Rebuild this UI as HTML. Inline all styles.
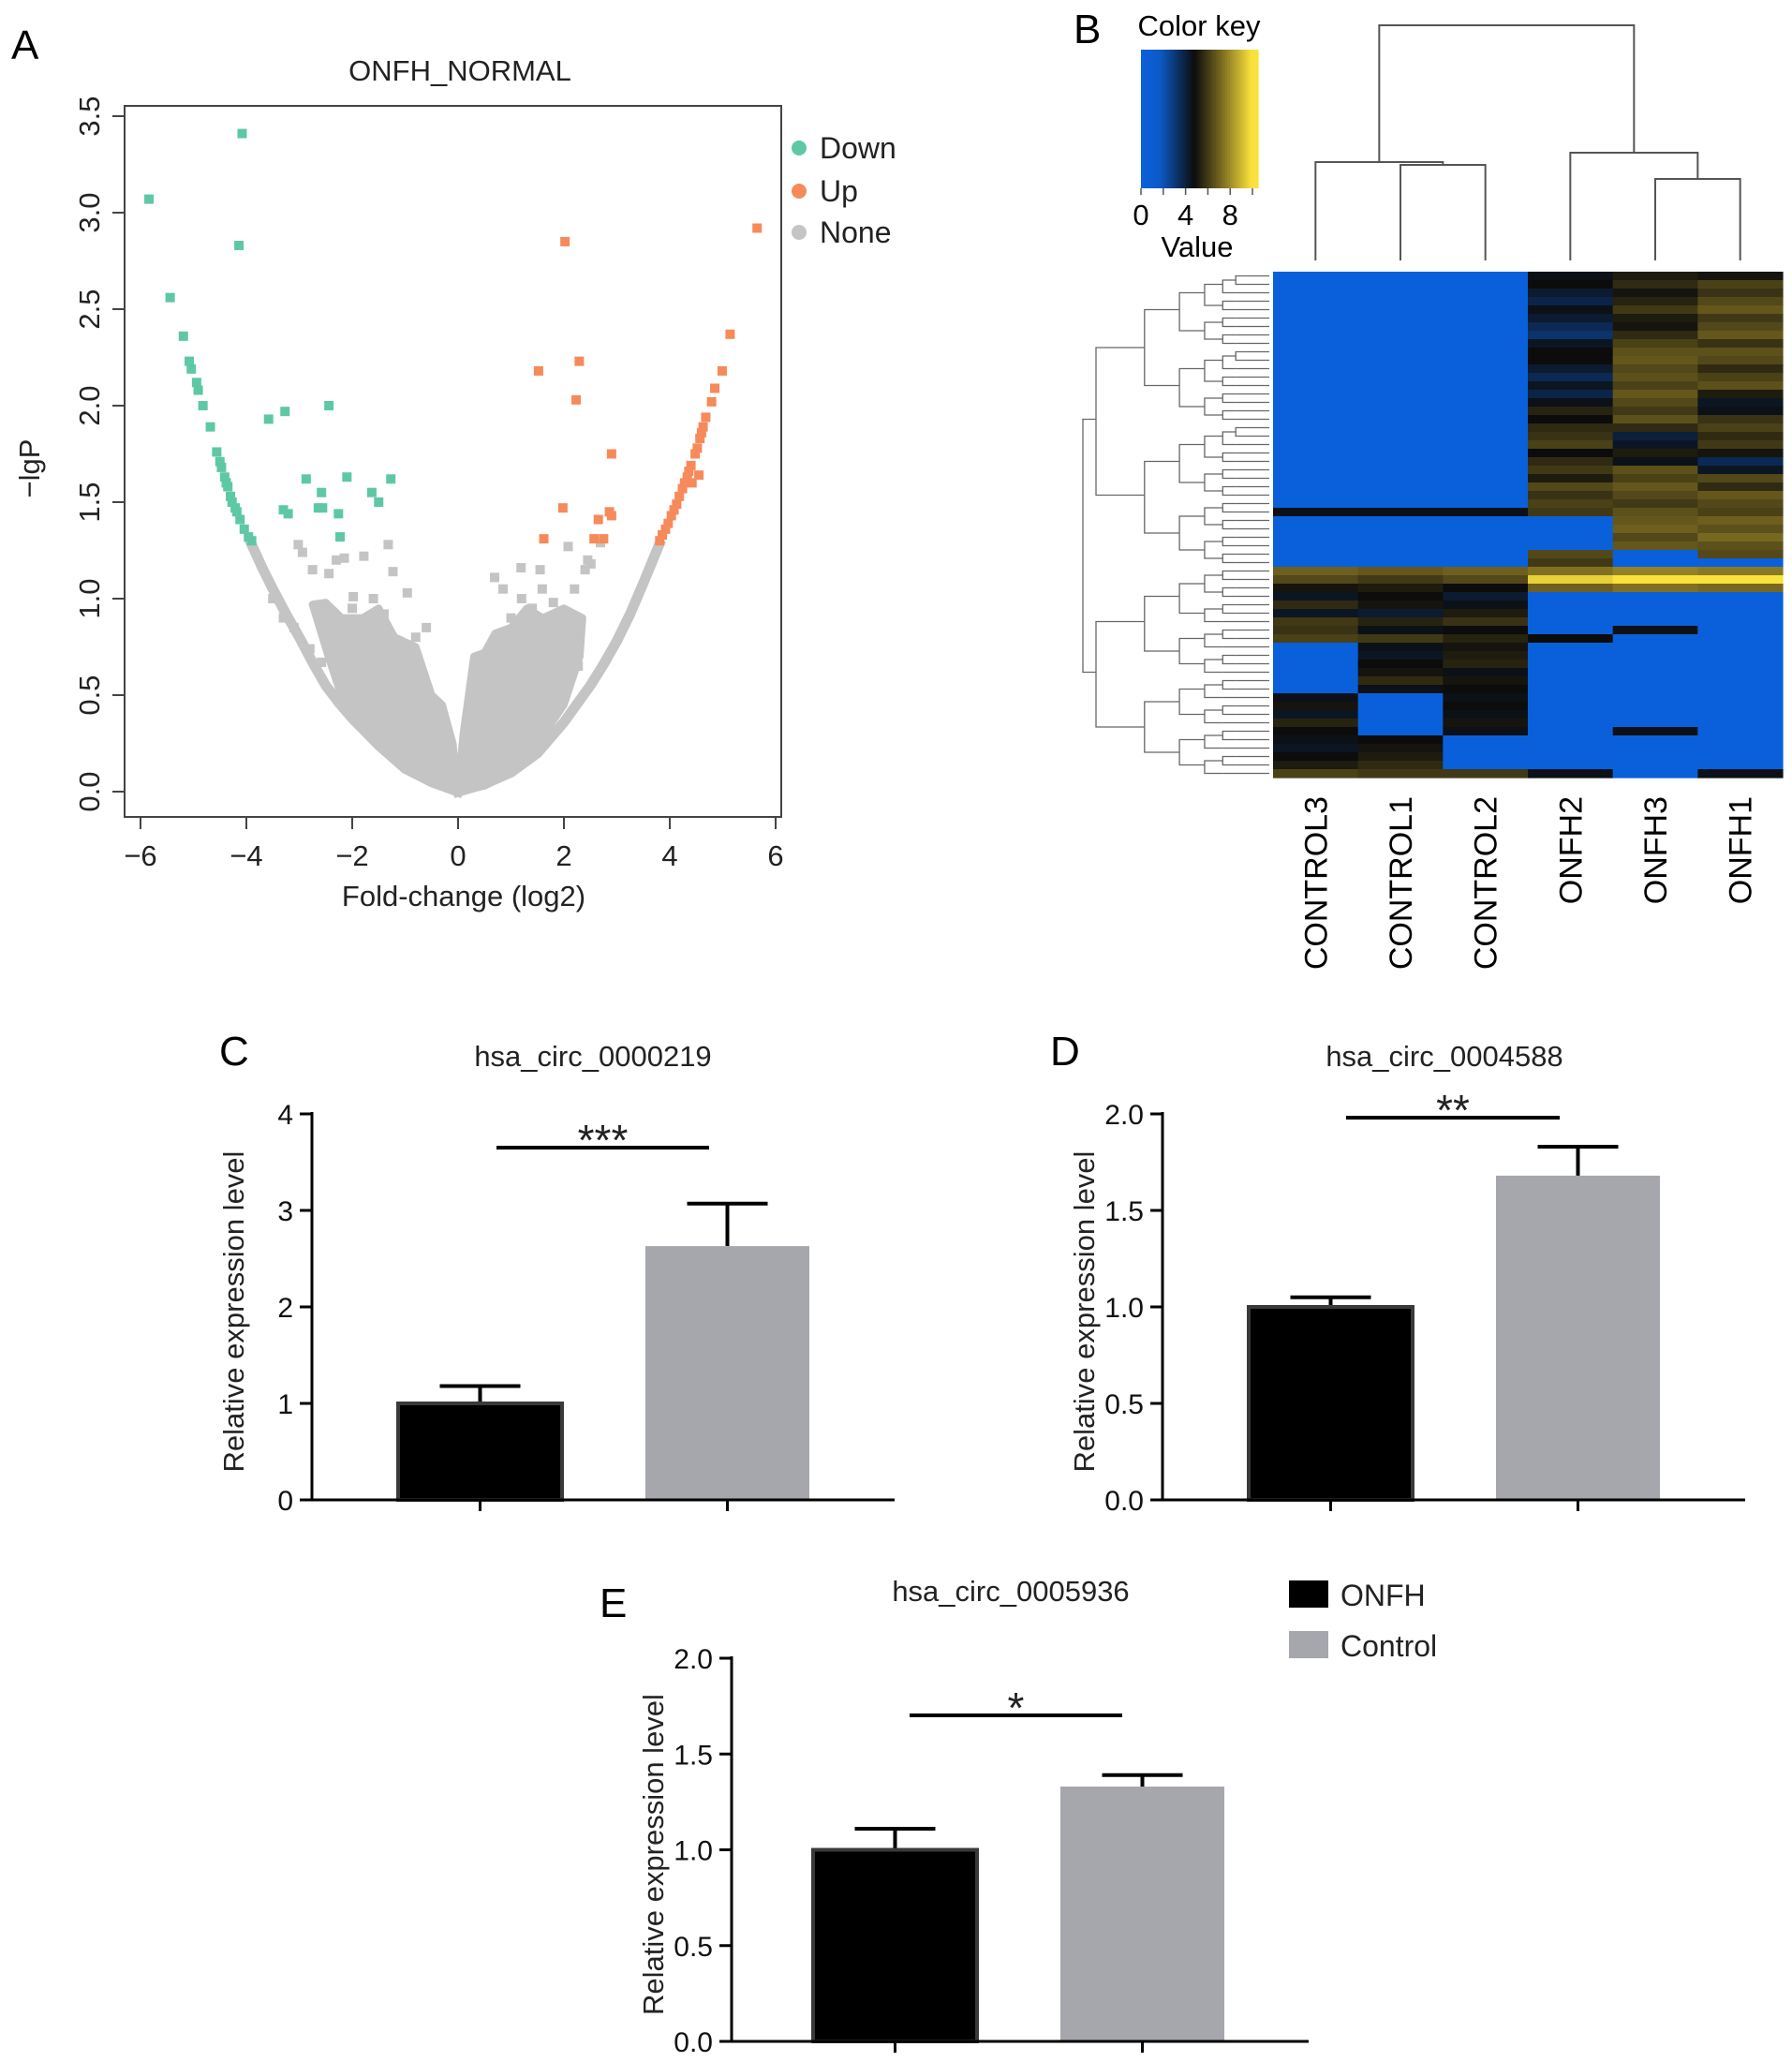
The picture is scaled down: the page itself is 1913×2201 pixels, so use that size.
<!DOCTYPE html>
<html><head><meta charset="utf-8"><style>
html,body{margin:0;padding:0;background:#fff}
svg{display:block;font-family:"Liberation Sans",Arial,sans-serif}
</style></head><body>
<svg id="fig" xmlns="http://www.w3.org/2000/svg" width="1913" height="2201" viewBox="0 0 1913 2201">
<rect width="1913" height="2201" fill="#fff"/>
<g id="volcano"></g>
<g id="heat"></g>
<g id="bars"></g>
</svg>
<script>
const NS='http://www.w3.org/2000/svg';
function mk(tag,attrs,parent,txt){const e=document.createElementNS(NS,tag);for(const k in attrs)e.setAttribute(k,attrs[k]);if(txt!==undefined)e.textContent=txt;parent.appendChild(e);return e;}

// ---------- Volcano data ----------
const downX=[-5.84,-4.08,-4.14,-5.44,-5.19,-5.08,-5.04,-4.94,-4.91,-4.82,-4.68,-4.56,-4.5,-4.41,-4.35,-4.3,-4.21,-4.12,-4.04,-3.96,-3.9,-3.58,-3.27,-2.44,-2.87,-2.1,-1.27,-2.58,-1.63,-1.5,-3.3,-3.21,-2.64,-2.56,-2.26,-2.23,-4.38,-4.27,-4.18,-4.47];
const downY=[3.07,3.41,2.83,2.56,2.36,2.23,2.19,2.12,2.08,2.0,1.89,1.76,1.71,1.63,1.58,1.53,1.47,1.41,1.36,1.32,1.30,1.93,1.97,2.0,1.62,1.63,1.62,1.55,1.55,1.5,1.46,1.44,1.47,1.47,1.44,1.32,1.6,1.5,1.45,1.68];
const upX=[5.65,2.02,5.14,2.29,1.52,4.99,2.23,4.85,4.79,4.68,4.63,4.57,4.48,4.4,4.33,4.24,4.13,4.03,3.92,3.81,4.55,4.42,2.9,1.98,2.86,2.9,2.65,2.75,2.57,1.62,4.6,4.52,4.36,4.28,4.18,4.08,3.97,3.86];
const upY=[2.92,2.85,2.37,2.23,2.18,2.18,2.03,2.09,2.02,1.94,1.89,1.83,1.75,1.69,1.63,1.57,1.49,1.43,1.36,1.30,1.64,1.6,1.75,1.47,1.45,1.43,1.41,1.31,1.31,1.31,1.86,1.78,1.66,1.6,1.53,1.46,1.39,1.33];
const grayX=[-3.02,-2.94,-1.32,-1.78,-2.15,-2.75,-2.44,-1.23,-0.96,-0.6,-1.98,0.69,0.85,1.19,1.55,2.08,2.69,2.4,2.51,1.2,1.59,2.27,-2.18,-2.58,-2.8,-2.3,-1.6,-1.4,-0.8,-2.0,-2.6,1.4,1.8,2.2,2.45,1.0,0.75,-3.3,-3.5,-3.1];
const grayY=[1.28,1.24,1.28,1.22,1.21,1.15,1.13,1.14,1.03,0.85,1.01,1.11,1.05,1.16,1.15,1.27,1.29,1.15,1.18,1.0,1.05,0.65,0.53,0.67,0.74,1.2,1.0,0.92,0.8,0.95,0.95,0.95,0.98,1.05,1.2,0.9,0.8,0.9,1.0,0.85];
const leftCurveX=[-3.9,-3.7,-3.5,-3.25,-3,-2.75,-2.5,-2.25,-2,-1.5,-1,-0.5,0];
const leftCurveY=[1.28,1.16,1.05,0.92,0.8,0.67,0.55,0.46,0.38,0.24,0.12,0.05,0];
const rightCurveX=[0,0.5,1,1.5,2,2.5,2.75,3,3.25,3.5,3.65,3.8];
const rightCurveY=[0,0.04,0.1,0.2,0.36,0.55,0.66,0.78,0.92,1.08,1.18,1.28];
const leftLobeX=[0,-0.5,-1,-1.5,-2,-2.15,-2.45,-2.75,-2.5,-2.2,-1.8,-1.5,-1.2,-0.8,-0.5,-0.3,-0.1];
const leftLobeY=[0,0.05,0.12,0.24,0.38,0.45,0.7,0.97,0.98,0.9,0.9,0.95,0.8,0.75,0.5,0.45,0.25];
const rightLobeX=[0,0.1,0.3,0.5,0.7,1.0,1.3,1.6,2.0,2.35,2.3,2.0,1.5,1.0,0.5];
const rightLobeY=[0,0.3,0.7,0.72,0.82,0.85,0.95,0.9,0.95,0.9,0.7,0.45,0.25,0.1,0.03];
const xTicks=[-6,-4,-2,0,2,4,6];
const xTickLabels=['\u22126','\u22124','\u22122','0','2','4','6'];
const yTicks=[0,0.5,1,1.5,2,2.5,3,3.5];
const yTickLabels=['0.0','0.5','1.0','1.5','2.0','2.5','3.0','3.5'];

const vx=v=>489+v*56.5, vy=v=>845-v*206;
(function(){
 const g=document.getElementById('volcano');
 const t=mk('text',{x:12,y:63,'font-size':44},g,'A');
 
 const ti=mk('text',{x:491,y:86,'font-size':31,'text-anchor':'middle',fill:'#222'},g,'ONFH_NORMAL');
 
 [[leftLobeX,leftLobeY],[rightLobeX,rightLobeY]].forEach(([X,Y])=>{
  let d='';X.forEach((x,i)=>{d+=(i?'L':'M')+vx(x)+','+vy(Y[i]);});
  const cl=mk('path',{d:d+'Z',fill:'#c4c4c4',stroke:'#c4c4c4','stroke-width':8,'stroke-linejoin':'round'},g);
  
 });
 [[leftCurveX,leftCurveY],[rightCurveX,rightCurveY]].forEach(([X,Y])=>{
  let p='';X.forEach((x,i)=>{p+=(i?'L':'M')+vx(x)+','+vy(Y[i]);});
  const l=mk('path',{d:p,fill:'none',stroke:'#c4c4c4','stroke-width':11,'stroke-linecap':'square'},g);
  
 });
 function pts(X,Y,col,name){X.forEach((x,i)=>{const r=mk('rect',{x:vx(x)-5,y:vy(Y[i])-5,width:10,height:10,fill:col},g);
  });}
 pts(grayX,grayY,'#c4c4c4','none-point');
 pts(downX,downY,'#5ec8a4','down-point');
 pts(upX,upY,'#f68a5a','up-point');
 const fr=mk('rect',{x:133,y:113,width:701,height:759,fill:'none',stroke:'#444','stroke-width':2},g);
 
 xTicks.forEach((v,i)=>{mk('line',{x1:vx(v),x2:vx(v),y1:872,y2:885,stroke:'#444','stroke-width':2},g);
  const l=mk('text',{x:vx(v),y:924,'font-size':31,'text-anchor':'middle',fill:'#222'},g,xTickLabels[i]);
  });
 yTicks.forEach((v,i)=>{mk('line',{x1:120,x2:133,y1:vy(v),y2:vy(v),stroke:'#444','stroke-width':2},g);
  const l=mk('text',{x:106,y:vy(v),'font-size':31,'text-anchor':'middle',fill:'#222',transform:`rotate(-90 106 ${vy(v)})`},g,yTickLabels[i]);
  });
 const xl=mk('text',{x:495,y:967,'font-size':31,'text-anchor':'middle',fill:'#222'},g,'Fold-change (log2)');
 
 const yl=mk('text',{x:42,y:500,'font-size':31,'text-anchor':'middle',fill:'#222',transform:'rotate(-90 42 500)'},g,'\u2212lgP');
 
 [['Down','#5ec8a4',158],['Up','#f68a5a',204],['None','#c4c4c4',248]].forEach(([n,c,y])=>{
  const le=mk('g',{},g);
  mk('circle',{cx:853,cy:y,r:8,fill:c},le);mk('text',{x:875,y:y+11,'font-size':32,fill:'#222'},le,n);});
})();

// ---------- Heatmap data ----------
const sampleLabels=['CONTROL3','CONTROL1','CONTROL2','ONFH2','ONFH3','ONFH1'];
const heatValues=[
[0,0,0,4.6,5.2,5.0],[0,0,0,4.8,5.6,6.2],[0,0,0,4.2,5.0,5.8],[0,0,0,3.8,5.4,6.4],[0,0,0,4.6,6.0,6.8],
[0,0,0,4.2,5.2,6.0],[0,0,0,3.6,5.0,6.4],[0,0,0,3.2,5.6,6.8],[0,0,0,4.4,6.2,5.8],[0,0,0,4.8,6.6,6.6],
[0,0,0,4.8,6.8,6.4],[0,0,0,4.2,6.4,5.6],[0,0,0,3.6,6.6,6.2],[0,0,0,4.4,6.2,6.6],[0,0,0,3.8,6.8,5.2],
[0,0,0,4.6,6.4,4.4],[0,0,0,5.4,6.0,4.6],[0,0,0,4.8,6.6,5.8],[0,0,0,5.6,5.6,6.2],[0,0,0,5.8,4.0,5.6],
[0,0,0,6.2,4.4,6.0],[0,0,0,4.8,5.2,5.0],[0,0,0,5.6,4.6,3.6],[0,0,0,6.0,6.6,4.4],[0,0,0,5.2,6.2,6.4],
[0,0,0,6.4,6.8,5.6],[0,0,0,5.8,6.4,6.8],[0,0,0,6.2,6.0,6.4],[4.6,4.6,4.6,6.0,6.6,6.2],[0,0,0,0,6.8,7.0],
[0,0,0,0,7.0,6.6],[0,0,0,0,6.4,7.2],[0,0,0,0,6.8,6.6],[0,0,0,6.4,0,6.4],[0,0,0,6.0,0,0],
[7.0,6.8,7.0,7.4,7.8,7.6],[6.4,6.0,6.4,9.6,10,10],[5.0,5.2,4.8,7.0,7.4,7.2],[4.4,4.8,4.2,0,0,0],[5.6,5.0,4.6,0,0,0],
[4.4,4.2,5.2,0,0,0],[6.0,5.4,5.8,0,0,0],[5.8,4.6,4.8,0,4.6,0],[6.2,6.0,5.4,4.8,0,0],[0,4.6,5.0,0,0,0],
[0,4.4,5.2,0,0,0],[0,4.8,5.4,0,0,0],[0,5.0,4.6,0,0,0],[0,5.6,5.0,0,0,0],[0,4.6,4.8,0,0,0],
[4.6,0,4.6,0,0,0],[5.0,0,4.8,0,0,0],[4.4,0,4.6,0,0,0],[5.4,0,5.0,0,0,0],[4.8,0,4.6,0,4.6,0],
[4.6,4.8,0,0,0,0],[4.4,5.0,0,0,0,0],[4.8,5.2,0,0,0,0],[5.2,5.6,0,0,0,0],[6.2,6.0,6.0,4.6,0,4.6]];
const keyTicks=[0,4,8];
function heatColor(v){
 const stops=[[0,[10,96,218]],[1.6,[12,90,200]],[4.8,[12,12,12]],[7,[110,95,30]],[10,[250,225,60]]];
 for(let i=1;i<stops.length;i++){if(v<=stops[i][0]){const [a,ca]=stops[i-1],[b,cb]=stops[i];const t=(v-a)/(b-a);
  return 'rgb('+ca.map((c,k)=>Math.round(c+(cb[k]-c)*t)).join(',')+')';}}
 return 'rgb(250,225,60)';}
(function(){
 const g=document.getElementById('heat');
 const L=1359,T=290,W=544,H=540,nR=heatValues.length,cw=W/6,rh=H/nR;
 const b=mk('text',{x:1146,y:46,'font-size':44},g,'B');
 heatValues.forEach((row,r)=>row.forEach((v,c)=>{const e=mk('rect',{x:L+c*cw,y:T+r*rh,width:cw+0.6,height:rh+0.6,fill:heatColor(v)},g);
  }));
 const kx0=1218,kx1=1343,ky0=53,ky1=201;
 const kg=mk('g',{},g);
 for(let i=0;i<50;i++){const v=i/49*10.5;mk('rect',{x:kx0+i*(kx1-kx0)/50,y:ky0,width:(kx1-kx0)/50+0.6,height:ky1-ky0,fill:heatColor(v)},kg);}
 const kscale=v=>kx0+v/10.5*(kx1-kx0);
 [0,2,4,6,8,10].forEach(v=>mk('line',{x1:kscale(v),x2:kscale(v),y1:ky1,y2:ky1+7,stroke:'#555','stroke-width':1.5},kg));
 keyTicks.forEach(v=>mk('text',{x:kscale(v),y:240,'font-size':31,'text-anchor':'middle'},kg,String(v)));
 mk('text',{x:1278,y:274,'font-size':31,'text-anchor':'middle'},kg,'Value');
 mk('text',{x:1280,y:38,'font-size':31,'text-anchor':'middle'},kg,'Color key');
 const cx=i=>L+cw*(i+0.5);
 const dg=mk('g',{fill:'none',stroke:'#555','stroke-width':2},g);
 const leafY=278;
 const seg=(d)=>mk('path',{d},dg);
 seg(`M${cx(1)},${leafY}V176H${cx(2)}V${leafY}`);
 const m12=(cx(1)+cx(2))/2;
 seg(`M${cx(0)},${leafY}V173H${m12}V176`);
 seg(`M${cx(4)},${leafY}V191H${cx(5)}V${leafY}`);
 const m45=(cx(4)+cx(5))/2;
 seg(`M${cx(3)},${leafY}V163H${m45}V191`);
 const a=(cx(0)+m12)/2,bb=(cx(3)+m45)/2;
 seg(`M${a},173V27H${bb}V163`);
 const rg=mk('g',{fill:'none',stroke:'#666','stroke-width':1.3},g);
 const ry=r=>T+(r+0.5)*rh;
 function tree(r0,r1,x,depth){
  if(r1-r0<1||depth>6){for(let r=r0;r<=r1;r++)mk('path',{d:`M${x},${ry(r)}H${L-4}`},rg);return;}
  const mid=Math.floor((r0+r1)/2);const nx=x+(L-4-x)*0.28;
  const y0=(ry(r0)+ry(mid))/2,y1=(ry(mid+1)+ry(r1))/2;
  mk('path',{d:`M${nx},${y0}H${x}V${y1}H${nx}`},rg);
  tree(r0,mid,nx,depth+1);tree(mid+1,r1,nx,depth+1);}
 const rootX=1156;
 const yA=(ry(0)+ry(34))/2,yB=(ry(35)+ry(59))/2;
 mk('path',{d:`M1170,${yA}H${rootX}V${yB}H1170`},rg);
 tree(0,34,1170,0);tree(35,59,1170,0);
 sampleLabels.forEach((s,i)=>{const x=cx(i)+12,y=850;
  const l=mk('text',{x,y,'font-size':34,'text-anchor':'end',transform:`rotate(-90 ${x} ${y})`},g,s);
  });
})();

// ---------- Bar chart data ----------
const groups=['ONFH','Control'];
const cValues=[1.0,2.63];const cErr=[1.18,3.07];const cTicks=[0,1,2,3,4];const cTickLabels=['0','1','2','3','4'];
const dValues=[1.0,1.68];const dErr=[1.05,1.83];const dTicks=[0,0.5,1,1.5,2];const dTickLabels=['0.0','0.5','1.0','1.5','2.0'];
const eValues=[1.0,1.33];const eErr=[1.11,1.39];const eTicks=[0,0.5,1,1.5,2];const eTickLabels=['0.0','0.5','1.0','1.5','2.0'];

function barChart(o){
 const g=mk('g',{},document.getElementById('bars'));
 
 const y=v=>o.y0-(v/o.max)*(o.y0-o.yTop);
 const L=mk('text',{x:o.letterX,y:o.letterY,'font-size':44},g,o.letter);
 
 const t=mk('text',{x:o.titleX,y:o.titleY,'font-size':31,'text-anchor':'middle',fill:'#222'},g,o.title);
 
 const cols=['#000','#a6a6ad'];
 o.values.forEach((v,i)=>{
  const bx=o.barX[i],bw=175,bc=bx+bw/2;
  mk('line',{x1:bc,x2:bc,y1:y(v),y2:y(o.err[i]),stroke:'#000','stroke-width':4},g);
  mk('line',{x1:bc-43,x2:bc+43,y1:y(o.err[i]),y2:y(o.err[i]),stroke:'#000','stroke-width':4},g);
  const r=mk('rect',{x:bx,y:y(v),width:bw,height:o.y0-y(v),fill:cols[i],stroke:i?'none':'#3a3a3a','stroke-width':i?0:4},g);
  
  mk('line',{x1:bc,x2:bc,y1:o.y0,y2:o.y0+12,stroke:'#000','stroke-width':3},g);
 });
 mk('line',{x1:o.ax,x2:o.ax,y1:o.yTop-2,y2:o.y0+1.5,stroke:'#000','stroke-width':3},g);
 mk('line',{x1:o.ax,x2:o.axEnd,y1:o.y0,y2:o.y0,stroke:'#000','stroke-width':3},g);
 o.ticks.forEach((v,i)=>{mk('line',{x1:o.ax-13,x2:o.ax,y1:y(v),y2:y(v),stroke:'#000','stroke-width':3},g);
  const l=mk('text',{x:o.ax-20,y:y(v)+11,'font-size':30,'text-anchor':'end',fill:'#111'},g,o.tickLabels[i]);
  });
 const yx=o.ax-73,yc=(o.y0+o.yTop)/2+5;
 const yl=mk('text',{x:yx,y:yc,'font-size':31,'text-anchor':'middle',fill:'#222',transform:`rotate(-90 ${yx} ${yc})`},g,'Relative expression level');
 
 const sl=mk('line',{x1:o.sig[0],x2:o.sig[1],y1:o.sig[2],y2:o.sig[2],stroke:'#000','stroke-width':4},g);
 
 const st=mk('text',{x:(o.sig[0]+o.sig[1])/2,y:o.sig[2]+8,'font-size':46,'text-anchor':'middle',fill:'#222'},g,o.stars);
 
}
barChart({name:'chart-c',letter:'C',letterX:234,letterY:1137,title:'hsa_circ_0000219',titleX:633,titleY:1138,values:cValues,err:cErr,ticks:cTicks,tickLabels:cTickLabels,max:4,y0:1601,yTop:1189,ax:333,axEnd:955,barX:[425,689],sig:[530,757,1225],stars:'***'});
barChart({name:'chart-d',letter:'D',letterX:1121,letterY:1137,title:'hsa_circ_0004588',titleX:1542,titleY:1138,values:dValues,err:dErr,ticks:dTicks,tickLabels:dTickLabels,max:2,y0:1601,yTop:1189,ax:1241,axEnd:1863,barX:[1333,1597],sig:[1437,1665,1193],stars:'**'});
barChart({name:'chart-e',letter:'E',letterX:640,letterY:1726,title:'hsa_circ_0005936',titleX:1079,titleY:1709,values:eValues,err:eErr,ticks:eTicks,tickLabels:eTickLabels,max:2,y0:2179,yTop:1770,ax:781,axEnd:1397,barX:[868,1132],sig:[971,1198,1831],stars:'*'});
(function(){
 const g=mk('g',{},document.getElementById('bars'));
 [['ONFH','#000',1687],['Control','#a6a6ad',1741]].forEach(([n,c,y])=>{
  const e=mk('g',{},g);
  mk('rect',{x:1376,y,width:42,height:29,fill:c},e);mk('text',{x:1431,y:y+27,'font-size':32,fill:'#222'},e,n);});
})();
</script>
</body></html>
